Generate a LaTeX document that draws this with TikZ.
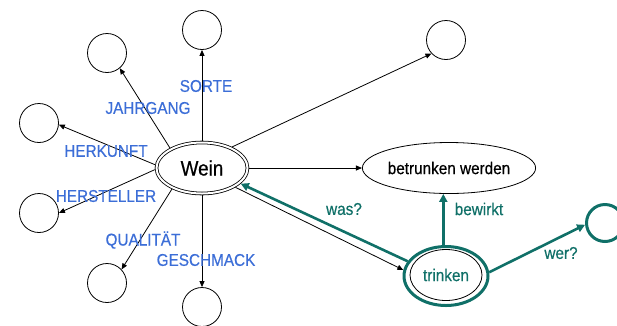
\documentclass[tikz,border=0pt]{standalone}
\usepackage{fontspec}
\setmainfont{Liberation Sans}[FakeStretch=0.9,FakeBold=0.5]
\usetikzlibrary{shapes.geometric,arrows.meta}
\definecolor{attrblue}{RGB}{60,110,215}
\definecolor{relgreen}{RGB}{16,112,104}
\begin{document}
\begin{tikzpicture}[x=1pt,y=-1pt,
  labelfont/.style={font=\fontsize{17}{20}\selectfont},
  slot/.style={circle,draw,line width=0.8pt,minimum size=39pt,inner sep=0pt},
  concept/.style={ellipse,draw,line width=0.8pt,inner sep=0pt,labelfont},
  attr/.style={line width=0.8pt,-{Triangle[length=6pt,width=5pt]}},
  attrlabel/.style={text=attrblue,inner sep=0pt,labelfont},
  rel/.style={draw=relgreen,line width=2.6pt,-{Triangle[length=8pt,width=8pt]},relgreen},
  rellabel/.style={text=relgreen,inner sep=0pt,labelfont}]
\useasboundingbox (0,0) rectangle (617,325);

% central concept and the two events
\node[concept,double,double distance=2pt,outer sep=1.8pt,
      minimum width=91pt,minimum height=51pt,
      font=\fontsize{21}{24}\selectfont] (wein) at (202,168) {Wein};
\node[concept,minimum width=131pt,minimum height=51pt] (betr) at (449,168) {betrunken werden};
\node[ellipse,draw=relgreen,line width=3pt,inner sep=0pt,
      minimum width=84pt,minimum height=59pt] (trinkrand) at (446,276) {};
\node[concept,minimum width=72pt,minimum height=51pt,text=relgreen] (trink) at (446,275) {trinken};

% empty attribute slots
\node[slot] (sorte) at (202,30) {};
\node[slot] (jahr)  at (107,53) {};
\node[slot] (herk)  at (39,123) {};
\node[slot] (herst) at (39,213) {};
\node[slot] (qual)  at (107,283) {};
\node[slot] (gesch) at (202,307) {};
\node[slot] (ziel)  at (446,40) {};
\node[slot,draw=relgreen,line width=3pt,minimum size=37pt] (agent) at (605,223) {};

% attribute arrows
\draw[attr] (wein.90)  -- (sorte.-90);
\draw[attr] (wein.148) -- (jahr.-50);
\draw[attr] (wein.176) -- (herk.-5);
\draw[attr] (wein.182) -- (herst.0);
\draw[attr] (wein.215) -- (qual.43);
\draw[attr] (wein.-90) -- (gesch.90);
\draw[attr] (wein.35)  -- (ziel.223);
\draw[attr] (wein.0)   -- (betr.180);
\draw[attr] (wein.-30) -- (trinkrand.172);

% relations of the drinking event
\draw[rel] (trinkrand.159) -- (wein.-22);
\draw[rel] (trinkrand.95) -- (trinkrand.95 |- betr.south);
\draw[rel] (trinkrand.5) -- (agent.185);

% attribute labels
\node[attrlabel] (lsorte) at (206,86)  {SORTE};
\node[attrlabel] (ljahr)  at (148,108) {JAHRGANG};
\node[attrlabel] (lherk)  at (106,151) {HERKUNFT};
\node[attrlabel] (lherst) at (106,196) {HERSTELLER};
\node[attrlabel] (lqual)  at (143,240) {QUALITÄT};
\node[attrlabel] (lgesch) at (206,260) {GESCHMACK};

% relation labels
\node[rellabel] (lwas) at (344,209) {was?};
\node[rellabel] (lbew) at (479,209) {bewirkt};
\node[rellabel] (lwer) at (561,253) {wer?};
\end{tikzpicture}
\end{document}
